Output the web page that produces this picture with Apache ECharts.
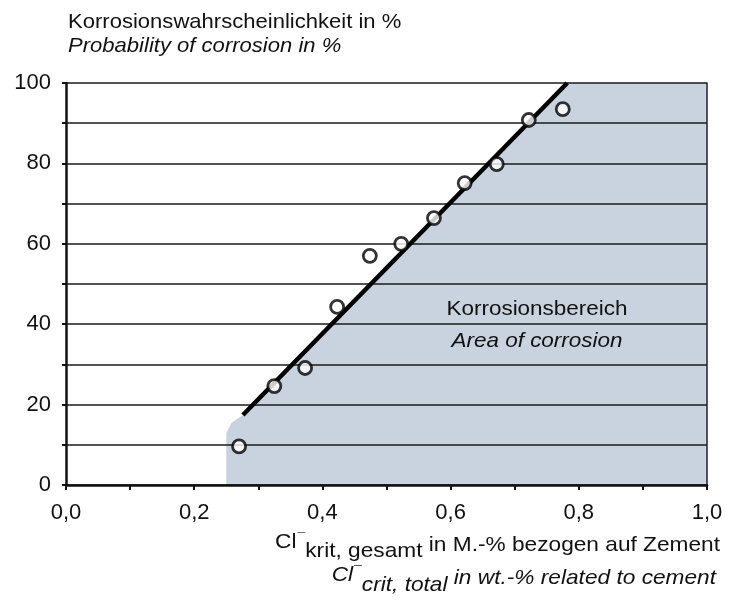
<!DOCTYPE html>
<html>
<head>
<meta charset="utf-8">
<script src="https://cdn.jsdelivr.net/npm/echarts@6/dist/echarts.min.js"></script>
<style>html,body{margin:0;padding:0;background:#fff}#c{width:733px;height:601px}</style>
</head>
<body>
<div id="c"></div>
<script>
// ---- data ----
const pointsX = [0.270, 0.325, 0.373, 0.423, 0.474, 0.523, 0.574, 0.622, 0.672, 0.722, 0.775];
const pointsY = [9.6, 24.6, 29.1, 44.3, 57.0, 60.0, 66.4, 75.1, 79.8, 90.8, 93.5];
const fitX = [0.276, 0.782];
const fitY = [17.4, 100];
const areaX = [0.250, 0.250, 0.258, 0.276, 0.782, 1.000];
const areaY = [0, 12.9, 15.4, 17.4, 100, 100];
const yTickLabels = [0, 20, 40, 60, 80, 100];
const xTickLabels = ['0,0', '0,2', '0,4', '0,6', '0,8', '1,0'];

const FONT = '"Liberation Sans", Arial, Helvetica, sans-serif';
const TXT = '#111';
const ctx = document.createElement('canvas').getContext('2d');
function tw(t, size, italic) {
  ctx.font = (italic ? 'italic ' : '') + size + 'px ' + FONT;
  return ctx.measureText(t).width;
}
function txt(x, y, text, size, italic, align, sx) {
  return {
    type: 'text', x: x, y: y, scaleX: sx || 1, z: 100,
    style: {
      text: text, font: (italic ? 'italic ' : '') + size + 'px ' + FONT,
      fill: TXT, align: align || 'left', verticalAlign: 'middle'
    }
  };
}
function piecesRight(rightX, items, sx) {
  const out = [];
  let x = rightX;
  for (let i = items.length - 1; i >= 0; i--) {
    const it = items[i];
    out.push(txt(x, it.y, it.text, it.size, it.italic, 'right', sx));
    x -= tw(it.text, it.size, it.italic) * sx + (it.gap || 0);
  }
  return out;
}

const SX = 1.08;
const nameLine1 = piecesRight(720, [
  {text: 'Cl', size: 21, y: 542},
  {text: '¯', size: 13, y: 538, gap: 1},
  {text: 'krit, gesamt', size: 21, y: 551},
  {text: ' in M.-% bezogen auf Zement', size: 21, y: 545}
], SX);
const nameLine2 = piecesRight(716, [
  {text: 'Cl', size: 21, y: 575, italic: true},
  {text: '¯', size: 13, y: 571, italic: true, gap: 1},
  {text: 'crit, total', size: 21, y: 585, italic: true},
  {text: ' in wt.-% related to cement', size: 21, y: 578, italic: true}
], SX);

const chart = echarts.init(document.getElementById('c'), null, {renderer: 'canvas'});
chart.setOption({
  animation: false,
  backgroundColor: '#fff',
  grid: {left: 66, right: 26, top: 83, bottom: 116, containLabel: false},
  xAxis: {
    type: 'value', min: 0, max: 1, interval: 0.1,
    axisLine: {show: true, onZero: false, lineStyle: {color: '#111', width: 2.5}},
    axisTick: {show: true, length: 5, lineStyle: {color: '#111', width: 2}},
    axisLabel: {
      margin: 17, fontSize: 22, fontFamily: FONT, color: TXT,
      formatter: function (v) {
        const k = Math.round(v * 10);
        return k % 2 === 0 ? xTickLabels[k / 2] : '';
      }
    },
    splitLine: {show: false}
  },
  yAxis: [{
    type: 'value', min: 0, max: 100, interval: 10,
    axisLine: {show: true, lineStyle: {color: '#111', width: 2.5}},
    axisTick: {show: true, length: 4, lineStyle: {color: '#111', width: 2}},
    axisLabel: {
      margin: 15, fontSize: 22, fontFamily: FONT, color: TXT,
      formatter: function (v) {
        const r = Math.round(v);
        return yTickLabels.indexOf(r) >= 0 ? String(r) : '';
      }
    },
    splitLine: {show: true, lineStyle: {color: '#1a1a1a', width: 1.5}}
  }, {
    type: 'value', min: 0, max: 100, interval: 10, position: 'right',
    axisLine: {show: true, lineStyle: {color: '#222', width: 1.5}},
    axisTick: {show: false}, axisLabel: {show: false}, splitLine: {show: false}
  }],
  series: [
    {
      type: 'line', z: -1, silent: true, symbol: 'none',
      data: areaX.map((x, i) => [x, areaY[i]]),
      lineStyle: {width: 0, color: '#c9d3e0'},
      areaStyle: {color: '#c9d3e0', opacity: 1, origin: 'start'}
    },
    {
      type: 'line', z: 3, symbol: 'none',
      data: fitX.map((x, i) => [x, fitY[i]]),
      lineStyle: {width: 4.5, color: '#000', cap: 'butt'}
    },
    {
      type: 'scatter', z: 5, symbol: 'circle', symbolSize: 13,
      data: pointsX.map((x, i) => [x, pointsY[i]]),
      itemStyle: {color: '#fff', borderColor: '#000', borderWidth: 2.8}
    }
  ],
  graphic: [
    txt(68, 22, 'Korrosionswahrscheinlichkeit in %', 21, false, 'left', 1.05),
    txt(68, 46, 'Probability of corrosion in %', 21, true, 'left', 1.05),
    txt(537, 309, 'Korrosionsbereich', 21, false, 'center', 1.07),
    txt(537, 341, 'Area of corrosion', 21, true, 'center', 1.07)
  ].concat(nameLine1, nameLine2)
});
</script>
</body>
</html>
